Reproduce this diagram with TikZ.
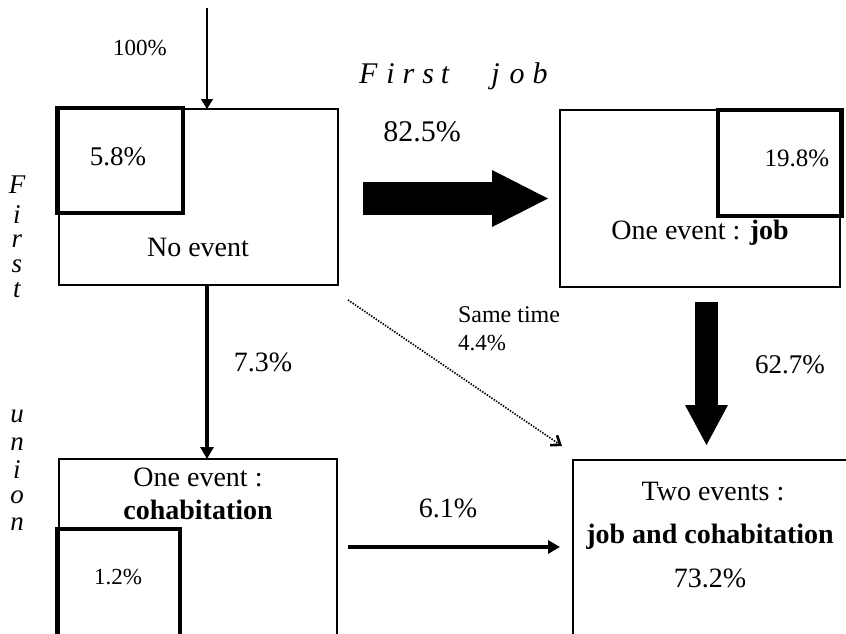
\documentclass[tikz,border=0pt]{standalone}
\usepackage{fontspec}
\setmainfont{Liberation Serif}
\usetikzlibrary{arrows.meta,calc}
\newcommand\fsz[1]{\fontsize{#1}{#1}\selectfont}
\begin{document}
\begin{tikzpicture}[x=1pt,y=-1pt,
  box/.style={draw,line width=1.3pt,inner sep=0pt,outer sep=0pt,anchor=north west},
  inbox/.style={draw,line width=3.6pt,inner sep=0pt,outer sep=0pt,anchor=north west},
  txt/.style={inner sep=0pt,outer sep=0pt},
  side/.style={txt,anchor=base,text height=12pt,text depth=0pt,font=\fsz{27}\itshape},
  thinarrow/.style={line width=1.3pt,-{Triangle[length=10pt,width=12pt]}},
  medarrow/.style={line width=3.3pt,-{Triangle[length=12pt,width=13pt]}},
  dotarrow/.style={line width=1.7pt,dash pattern=on 1.4pt off 1.4pt,-{Straight Barb[length=8pt,width=12pt,line width=2.6pt]}},
  bigright/.style={line width=33pt,-{Triangle[length=56pt,width=57pt,line width=0pt]}},
  bigdown/.style={line width=23pt,-{Triangle[length=40pt,width=43pt,line width=0pt]}}
]
\clip (0,0) rectangle (846,633);
\useasboundingbox (0,0) rectangle (846,633);
\fill[white] (0,0) rectangle (846,633);

% boxes
\node[box,minimum width=279,minimum height=176] (b1) at (59,109) {};
\node[box,minimum width=280,minimum height=177] (b2) at (560,110) {};
\node[box,minimum width=278,minimum height=200] (b3) at (59,459) {};
\node[box,minimum width=300,minimum height=200] (b4) at (573,460) {};
\node[inbox,minimum width=126,minimum height=105] (i1) at (57,108) {};
\node[inbox,minimum width=124,minimum height=106] (i2) at (718,110) {};
\node[inbox,minimum width=123,minimum height=130] (i3) at (57,529) {};

% texts
\node[txt,font=\fsz{23}] (p100) at (140,48) {100\%};
\node[txt,anchor=base west,font=\fsz{30}\itshape] (fj) at (359,83)
  {F\hspace{9pt}i\hspace{8pt}r\hspace{8pt}s\hspace{7pt}t\hspace{42pt}j\hspace{10pt}o\hspace{8pt}b};
\node[txt,font=\fsz{30}] (p825) at (422,132) {82.5\%};
\node[txt,font=\fsz{27}] (p58) at (118,157) {5.8\%};
\node[txt,font=\fsz{28}] (ne) at (198,247) {No event};
\node[txt,font=\fsz{25}] (p198) at (797,158) {19.8\%};
\node[txt,font=\fsz{28}] (oej) at (700,233) {One event : \textbf{job}};
\node[txt,anchor=west,font=\fsz{24}] (st) at (458,315) {Same time};
\node[txt,anchor=west,font=\fsz{23}] (p44) at (458,343) {4.4\%};
\node[txt,font=\fsz{27}] (p627) at (790,365) {62.7\%};
\node[txt,font=\fsz{28}] (p73) at (263,362) {7.3\%};
\node[txt,font=\fsz{28}] (oec) at (198,477) {One event :};
\node[txt,font=\fsz{28}\bfseries] (coh) at (198,510) {cohabitation};
\node[txt,font=\fsz{23}] (p12) at (118,577) {1.2\%};
\node[txt,font=\fsz{28}] (p61) at (448,508) {6.1\%};
\node[txt,font=\fsz{28}] (te) at (713,492) {Two events :};
\node[txt,font=\fsz{28}\bfseries] (jac) at (710,537) {job and cohabitation};
\node[txt,font=\fsz{28}] (p732) at (710,578) {73.2\%};

% vertical "First union"
\node[side] (v1) at (17,193) {F};
\node[side] (v2) at (17,223) {i};
\node[side] (v3) at (17,247) {r};
\node[side] (v4) at (17,272) {s};
\node[side] (v5) at (17,297) {t};
\node[side] (v6) at (17,422) {u};
\node[side] (v7) at (17,450) {n};
\node[side] (v8) at (17,478) {i};
\node[side] (v9) at (17,503) {o};
\node[side] (v10) at (17,530) {n};

% connectors
\coordinate (top) at (207,8);
\draw[thinarrow] (top) -- (top |- b1.north);
\draw[medarrow] (top |- b1.south) -- (top |- b3.north);
\coordinate (h) at (348,547);
\draw[medarrow] (h) -- ($(h -| b4.west)+(-13,0)$);
\draw[dotarrow] ($(b1.south east)+(10,15)$) -- ($(b4.north west)+(-11,-14)$);
\draw[bigright] ($(b1.east)+(25,1.5)$) -- ($(b2.west)+(-12,0)$);
\coordinate (ds) at ($(b2.south)+(6.5,15)$);
\draw[bigdown] (ds) -- ($(ds |- b4.north)+(0,-15)$);
\end{tikzpicture}
\end{document}
